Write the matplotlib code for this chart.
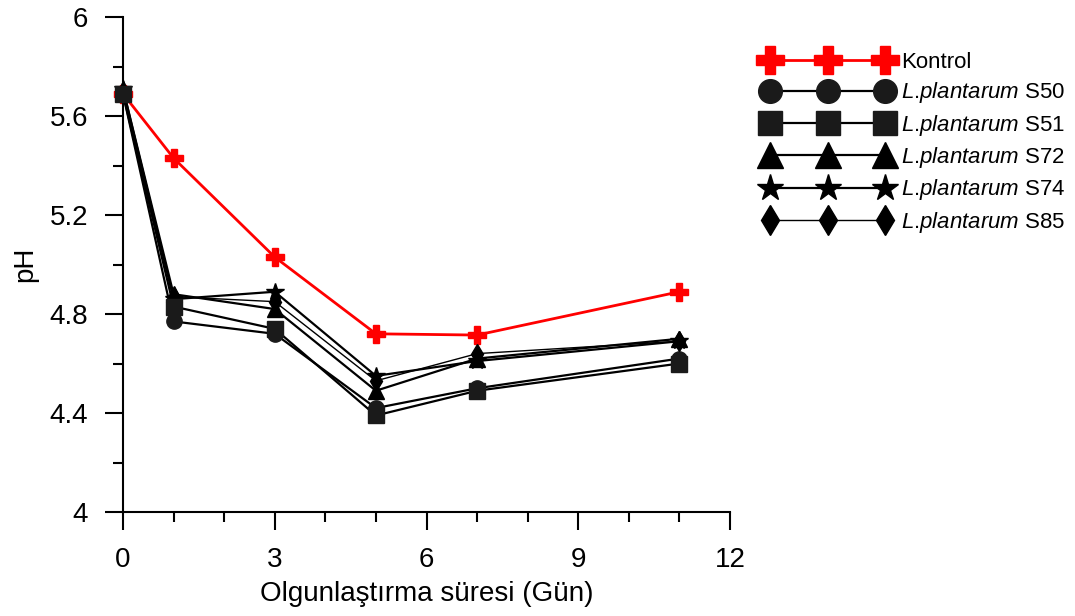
import numpy as np
import matplotlib.pyplot as plt
from matplotlib.ticker import MultipleLocator

plt.rcParams['font.family'] = ['Liberation Sans', 'DejaVu Sans']
plt.rcParams['mathtext.fontset'] = 'custom'
plt.rcParams['mathtext.it'] = 'Liberation Sans:italic'
plt.rcParams['mathtext.rm'] = 'Liberation Sans'

# Ripening time (days)
days = [0, 1, 3, 5, 7, 11]

# pH values
kontrol = [5.69, 5.43, 5.03, 4.72, 4.715, 4.89]
s50 = [5.69, 4.77, 4.72, 4.42, 4.50, 4.62]
s51 = [5.69, 4.83, 4.74, 4.39, 4.49, 4.60]
s72 = [5.71, 4.88, 4.82, 4.49, 4.62, 4.70]
s74 = [5.71, 4.86, 4.89, 4.55, 4.61, 4.69]
s85 = [5.69, 4.87, 4.85, 4.53, 4.64, 4.69]

fig = plt.figure(figsize=(10.75, 6.16), dpi=100)
ax = fig.add_axes([0.1144, 0.1688, 0.5647, 0.8036])

ax.plot(days, kontrol, color='red', lw=2, marker='P', ms=13, mec='red', mfc='red',
        label='Kontrol', zorder=2, clip_on=False)
ax.plot(days, s50, color='black', lw=1.6, marker='o', ms=11, mfc='#1a1a1a', mec='#1a1a1a',
        label=r'$\it{L}$.$\it{plantarum}$ S50', zorder=3, clip_on=False)
ax.plot(days, s51, color='black', lw=1.6, marker='s', ms=11, mfc='#1a1a1a', mec='#1a1a1a',
        label=r'$\it{L}$.$\it{plantarum}$ S51', zorder=5, clip_on=False)
ax.plot(days, s72, color='black', lw=1.6, marker='^', ms=12, mfc='black', mec='black',
        label=r'$\it{L}$.$\it{plantarum}$ S72', zorder=4, clip_on=False)
ax.plot(days, s74, color='black', lw=1.6, marker='*', ms=13, mfc='black', mec='black',
        label=r'$\it{L}$.$\it{plantarum}$ S74', zorder=4, clip_on=False)
ax.plot(days, s85, color='black', lw=1.0, marker='d', ms=10, mfc='black', mec='black',
        label=r'$\it{L}$.$\it{plantarum}$ S85', zorder=4, clip_on=False)

ax.set_xlim(0, 12)
ax.set_ylim(4, 6)
ax.xaxis.set_major_locator(MultipleLocator(3))
ax.xaxis.set_minor_locator(MultipleLocator(1))
ax.yaxis.set_major_locator(MultipleLocator(0.4))
ax.yaxis.set_minor_locator(MultipleLocator(0.2))
ax.yaxis.set_major_formatter(plt.FuncFormatter(lambda v, p: f'{v:g}'))

for s in ['top', 'right']:
    ax.spines[s].set_visible(False)
for s in ['left', 'bottom']:
    ax.spines[s].set_linewidth(1.5)
ax.tick_params(which='major', direction='out', length=13, width=1.5, labelsize=20)
ax.tick_params(axis='y', which='major', pad=12)
ax.tick_params(axis='x', which='major', pad=12)
ax.tick_params(which='minor', direction='out', length=7.5, width=1.5)

ax.set_xlabel('Olgunlaştırma süresi (Gün)', fontsize=20, labelpad=6)
ax.set_ylabel('pH', fontsize=20, labelpad=8)

ax.legend(loc='upper left', bbox_to_anchor=(1.04, 0.947), frameon=False, numpoints=3,
          handlelength=5.8, fontsize=16, markerscale=1.55, labelspacing=0.33,
          handletextpad=0.4, borderaxespad=0)

fig.savefig('out.png', dpi=100)
